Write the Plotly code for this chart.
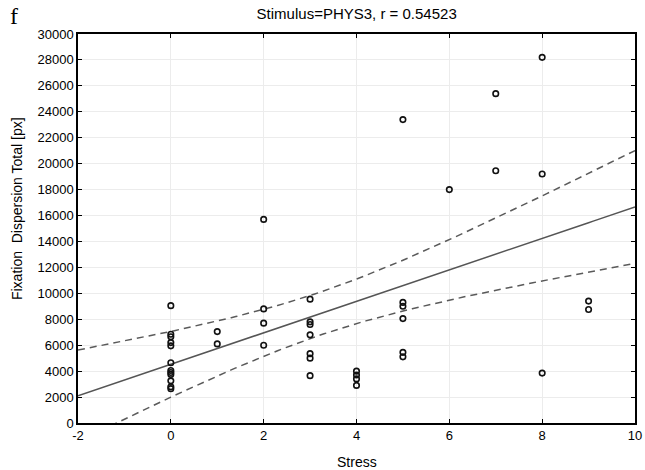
import numpy as np
import plotly.graph_objects as go

# Stress score per participant and the matching total fixation dispersion (px)
stress = (
    [0] * 12 + [1] * 2 + [2] * 4 + [3] * 7 + [4] * 4
    + [5] * 6 + [6] * 1 + [7] * 2 + [8] * 3 + [9] * 2
)
dispersion = [
    9050, 6850, 6650, 6200, 5950, 4650, 4050, 3900, 3750, 3250, 2800, 2650,
    7050, 6100,
    15700, 8800, 7700, 6000,
    9550, 7800, 7600, 6800, 5350, 5000, 3650,
    4000, 3700, 3400, 2900,
    23400, 9300, 9000, 8050, 5450, 5100,
    18000,
    25400, 19450,
    28200, 19200, 3850,
    9400, 8750,
]

title_text = "Stimulus=PHYS3, r = 0.54523"
x_label = "Stress"
y_label = "Fixation  Dispersion Total [px]"
x_ticks = [-2, 0, 2, 4, 6, 8, 10]
y_ticks = list(range(0, 30001, 2000))

# Least-squares fit with a 95% confidence band for the mean
x = np.asarray(stress, dtype=float)
y = np.asarray(dispersion, dtype=float)
n = len(x)
slope, intercept = np.polyfit(x, y, 1)
resid = y - (slope * x + intercept)
s = np.sqrt(np.sum(resid ** 2) / (n - 2))
sxx = np.sum((x - x.mean()) ** 2)
T_CRIT = 2.0195  # Student t, 0.975 quantile, df = 41

xs = np.linspace(-2, 10, 121)
fit = slope * xs + intercept
half = T_CRIT * s * np.sqrt(1.0 / n + (xs - x.mean()) ** 2 / sxx)

SANS = "Liberation Sans, Arial, sans-serif"

fig = go.Figure()
for band in (fit + half, fit - half):
    fig.add_trace(go.Scatter(x=xs, y=band, mode="lines",
                             line=dict(color="#5a5a5a", width=1.5,
                                       dash="7px,5px"),
                             hoverinfo="skip"))
fig.add_trace(go.Scatter(x=xs, y=fit, mode="lines",
                         line=dict(color="#555555", width=1.5),
                         hoverinfo="skip"))
fig.add_trace(go.Scatter(x=stress, y=dispersion, mode="markers",
                         marker=dict(symbol="circle-open", size=5.5,
                                     color="#111111",
                                     line=dict(width=1.6, color="#111111"))))

axis_common = dict(
    showline=True, linecolor="black", linewidth=1.5, mirror="ticks",
    ticks="inside", ticklen=4, tickcolor="black", tickwidth=1,
    showgrid=True, gridcolor="#ececec", gridwidth=1,
    zeroline=False, automargin=False,
    tickfont=dict(family=SANS, size=13, color="black"),
)

fig.update_xaxes(range=[-2, 10], tickvals=x_ticks,
                 ticktext=[str(v) for v in x_ticks], **axis_common)
fig.update_yaxes(range=[0, 30000], tickvals=y_ticks,
                 ticktext=[str(v) for v in y_ticks], **axis_common)

fig.update_layout(
    width=645, height=470,
    margin=dict(l=78, r=10, t=34, b=47),
    paper_bgcolor="white", plot_bgcolor="white",
    showlegend=False,
    title=dict(text=title_text, x=0.553, xanchor="center", y=0.97,
               yanchor="middle",
               font=dict(family=SANS, size=15, color="black")),
    annotations=[
        dict(text="f", xref="paper", yref="paper", x=-0.125, y=1.085,
             xanchor="left", yanchor="top", showarrow=False,
             font=dict(family="Liberation Serif, Times New Roman",
                       size=24, color="black")),
        dict(text=x_label, xref="paper", yref="paper", x=0.5, y=0,
             xanchor="center", yanchor="middle", yshift=-39,
             showarrow=False,
             font=dict(family=SANS, size=14, color="black")),
        dict(text=y_label, xref="paper", yref="paper", x=0, y=0.55,
             xanchor="center", yanchor="middle", xshift=-61, textangle=-90,
             showarrow=False,
             font=dict(family=SANS, size=14, color="black")),
    ],
)

fig.write_html("out.html")
